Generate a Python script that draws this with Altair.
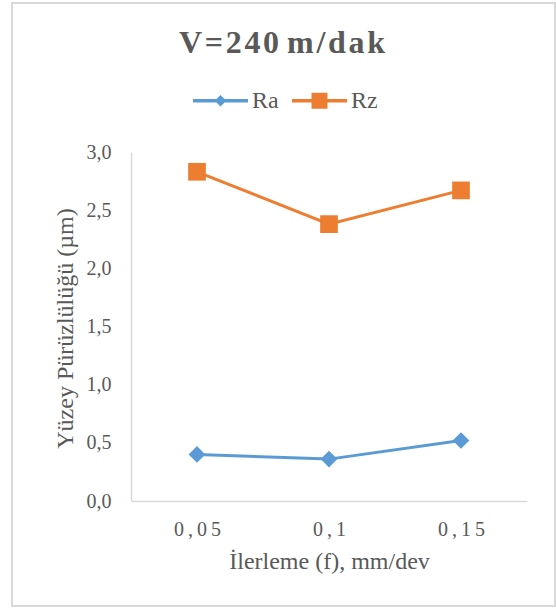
import altair as alt
import pandas as pd

# Feed rates (category labels) and measured roughness values
feeds = ["0,05", "0,1", "0,15"]
ra_values = [0.40, 0.36, 0.52]
rz_values = [2.83, 2.38, 2.67]
series = ["Ra", "Rz"]
colors = ["#5B9BD5", "#ED7D31"]
y_ticks = [0, 0.5, 1.0, 1.5, 2.0, 2.5, 3.0]

df = pd.DataFrame({
    "f": feeds * 2,
    "seri": [series[0]] * len(feeds) + [series[1]] * len(feeds),
    "deger": ra_values + rz_values,
})

FONT = "'Liberation Serif', 'Times New Roman', 'DejaVu Serif', serif"
TEXT = "#595959"
AXIS_LINE = "#D9D9D9"
HS = "\u200a"  # hair space for the wide title lettering

title_text = HS.join("V=240") + " " + HS.join("m/dak")

x_enc = alt.X(
    "f:N",
    sort=feeds,
    scale=alt.Scale(type="point", padding=0.5),
    axis=alt.Axis(
        title="İlerleme (f), mm/dev",
        labelAngle=0,
        ticks=False,
        tickSize=0,
        grid=False,
        domainColor=AXIS_LINE,
        domainWidth=1.5,
        labelPadding=18,
        labelFont=FONT,
        labelFontSize=20,
        labelColor=TEXT,
        labelExpr="join(split(datum.label, ''), '\u2009')",
        titleFont=FONT,
        titleFontSize=24,
        titleFontWeight="normal",
        titleColor=TEXT,
        titleX=198,
        titleY=67,
        titleAlign="center",
        titleBaseline="alphabetic",
    ),
)

y_enc = alt.Y(
    "deger:Q",
    scale=alt.Scale(domain=[0, 3]),
    axis=alt.Axis(
        title="Yüzey Pürüzlülüğü (µm)",
        values=y_ticks,
        labelExpr="replace(format(datum.value, '.1f'), '.', ',')",
        ticks=False,
        tickSize=0,
        grid=False,
        domainColor=AXIS_LINE,
        domainWidth=1.5,
        labelPadding=20,
        labelFont=FONT,
        labelFontSize=20,
        labelColor=TEXT,
        titleFont=FONT,
        titleFontSize=24,
        titleFontWeight="normal",
        titleColor=TEXT,
        titleAngle=270,
        titleX=-59,
        titleY=176,
        titleAlign="center",
        titleBaseline="alphabetic",
    ),
)

color_scale = alt.Scale(domain=series, range=colors)

# Legend symbols: a filled bar (the line) with the series marker on it
legend_paths = [
    "M-1,-0.062H1V0.062H-1ZM0,-0.213L0.213,0L0,0.213L-0.213,0Z",
    "M-1,-0.062H1V0.062H-1ZM-0.29,-0.29H0.29V0.29H-0.29Z",
]

legend_style = alt.Legend(
    orient="none",
    legendX=62,
    legendY=-79,
    direction="horizontal",
    title=None,
    symbolSize=3025,
    symbolStrokeWidth=0,
    symbolOpacity=1,
    labelFont=FONT,
    labelFontSize=24,
    labelColor=TEXT,
    labelOffset=4,
    columnPadding=13,
    padding=0,
)

base = alt.Chart(df)

lines = base.mark_line(strokeWidth=3).encode(
    x=x_enc, y=y_enc, color=alt.Color("seri:N", scale=color_scale, legend=None)
)

points = base.mark_point(filled=True, opacity=1).encode(
    x=x_enc,
    y=y_enc,
    color=alt.Color("seri:N", scale=color_scale, legend=None),
    shape=alt.Shape("seri:N", scale=alt.Scale(domain=series, range=["diamond", "square"]), legend=None),
    size=alt.Size("seri:N", scale=alt.Scale(domain=series, range=[280, 313]), legend=None),
)

legend_layer = (
    base.transform_filter("false")
    .transform_calculate(leg="datum.seri")
    .mark_point(filled=True, opacity=1, size=3025, strokeWidth=0)
    .encode(
        x=x_enc,
        y=y_enc,
        color=alt.Color("leg:N", scale=color_scale, legend=legend_style),
        shape=alt.Shape("leg:N", scale=alt.Scale(domain=series, range=legend_paths), legend=legend_style),
    )
)

single = alt.Chart(pd.DataFrame({"k": [0]}))

# Light grey frame around the whole chart area
frame = single.mark_rect(filled=False, stroke=AXIS_LINE, strokeWidth=2).encode(
    x=alt.value(-119), x2=alt.value(424), y=alt.value(-149), y2=alt.value(454)
)

# Chart heading, centred on the frame
heading = single.mark_text(
    font=FONT, fontSize=32, fontWeight="bold", color=TEXT, align="center", baseline="alphabetic"
).encode(x=alt.value(151), y=alt.value(-99), text=alt.value(title_text))

chart = alt.layer(frame, heading, lines, points, legend_layer).resolve_scale(
    color="independent", shape="independent", size="independent"
).properties(
    width=396,
    height=349,
    autosize=alt.AutoSizeParams(type="none"),
    padding={"left": 131, "top": 152, "right": 29, "bottom": 107},
    background="white",
).configure_view(stroke=None)

chart.save("out.html", embed_options={"renderer": "svg", "actions": False})
